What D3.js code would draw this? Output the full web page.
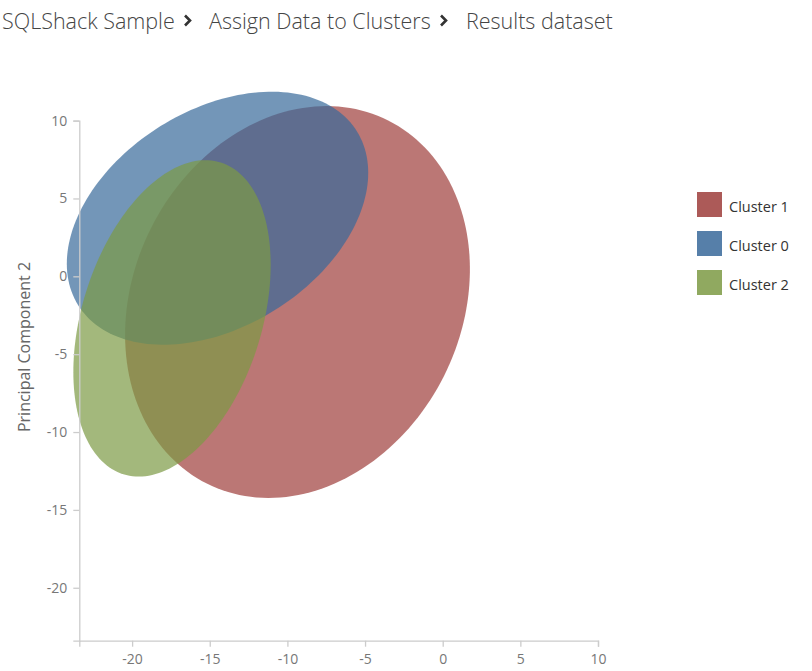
<!DOCTYPE html>
<html>
<head>
<meta charset="utf-8">
<script src="https://cdn.jsdelivr.net/npm/d3@7"></script>
<style>
  html, body { margin: 0; padding: 0; background: #fff; }
  svg { display: block; font-family: "Segoe UI", "Open Sans", sans-serif; }
</style>
</head>
<body>
<svg id="chart" width="812" height="671"></svg>
<script>
// ---- data ----
const breadcrumb = ["SQLShack Sample", "Assign Data to Clusters", "Results dataset"];
const clusters = ["Cluster 1", "Cluster 0", "Cluster 2"];
const colors = ["#9e3d3b", "#38699a", "#7c9a44"];
const centerX = [-9.35, -14.50, -17.43];
const centerY = [-1.65, 3.73, -2.70];
const radiusMajor = [13.04, 10.57, 10.49];
const radiusMinor = [10.56, 6.96, 5.79];
const angleDeg = [63.4, 31.8, 72.6];
const xTicks = [-20, -15, -10, -5, 0, 5, 10];
const yTicks = [-20, -15, -10, -5, 0, 5, 10];
const xDomain = [-23.4, 10];
const yDomain = [-23.4, 10];
const yTitle = "Principal Component 2";

// ---- layout ----
const svg = d3.select("#chart");
const plot = { left: 79.3, right: 598, top: 120.6, bottom: 640.7 };
const x = d3.scaleLinear().domain(xDomain).range([plot.left, plot.right]);
const y = d3.scaleLinear().domain(yDomain).range([plot.bottom, plot.top]);

// breadcrumb
const bc = svg.append("g").attr("font-size", 21.5).attr("fill", "#444").attr("font-weight", 300);
const bcX = [2, 209, 466];
const chevX = [185, 441];
breadcrumb.forEach((t, i) => {
  bc.append("text").attr("x", bcX[i]).attr("y", 29).text(t);
});
chevX.forEach(cx => {
  bc.append("path")
    .attr("d", `M${cx},15.5 L${cx + 5},20.5 L${cx},25.5`)
    .attr("fill", "none").attr("stroke", "#333").attr("stroke-width", 2.6);
});

// ellipses
const line = d3.line().x(d => x(d[0])).y(d => y(d[1])).curve(d3.curveLinearClosed);
const steps = d3.range(0, 360, 2);
const ell = svg.append("g");
clusters.forEach((c, i) => {
  const th = angleDeg[i] * Math.PI / 180;
  const pts = steps.map(s => {
    const t = s * Math.PI / 180;
    const u = radiusMajor[i] * Math.cos(t), v = radiusMinor[i] * Math.sin(t);
    return [centerX[i] + u * Math.cos(th) - v * Math.sin(th),
            centerY[i] + u * Math.sin(th) + v * Math.cos(th)];
  });
  ell.append("path").attr("d", line(pts)).attr("fill", colors[i]).attr("fill-opacity", 0.7);
});

// axes
const axisColor = "#cccccc";
const fmt = d => String(d);
const gx = svg.append("g").attr("transform", `translate(0,${plot.bottom})`)
  .call(d3.axisBottom(x).tickValues(xTicks).tickFormat(fmt).tickSize(6).tickPadding(5));
const gy = svg.append("g").attr("transform", `translate(${plot.left},0)`)
  .call(d3.axisLeft(y).tickValues(yTicks).tickFormat(fmt).tickSize(6).tickPadding(6));
[gx, gy].forEach(g => {
  g.selectAll("path, line").attr("stroke", axisColor).attr("stroke-width", 1.3);
  g.selectAll("text").attr("fill", "#777").attr("font-size", 14)
    .attr("font-family", "'Segoe UI', 'Open Sans', sans-serif");
});
gx.selectAll("text").attr("dy", "0.9em");

// y title
svg.append("text")
  .attr("transform", `translate(30,347) rotate(-90)`)
  .attr("text-anchor", "middle")
  .attr("font-size", 16).attr("fill", "#666")
  .text(yTitle);

// legend
const lg = svg.append("g").attr("transform", "translate(697,192)");
clusters.forEach((c, i) => {
  const row = lg.append("g").attr("transform", `translate(0,${i * 39})`);
  row.append("rect").attr("width", 25).attr("height", 25).attr("fill", colors[i]).attr("fill-opacity", 0.85);
  row.append("text").attr("x", 32).attr("y", 14.5).attr("dy", "0.35em")
    .attr("font-size", 14.5).attr("fill", "#333").text(c);
});
</script>
</body>
</html>
